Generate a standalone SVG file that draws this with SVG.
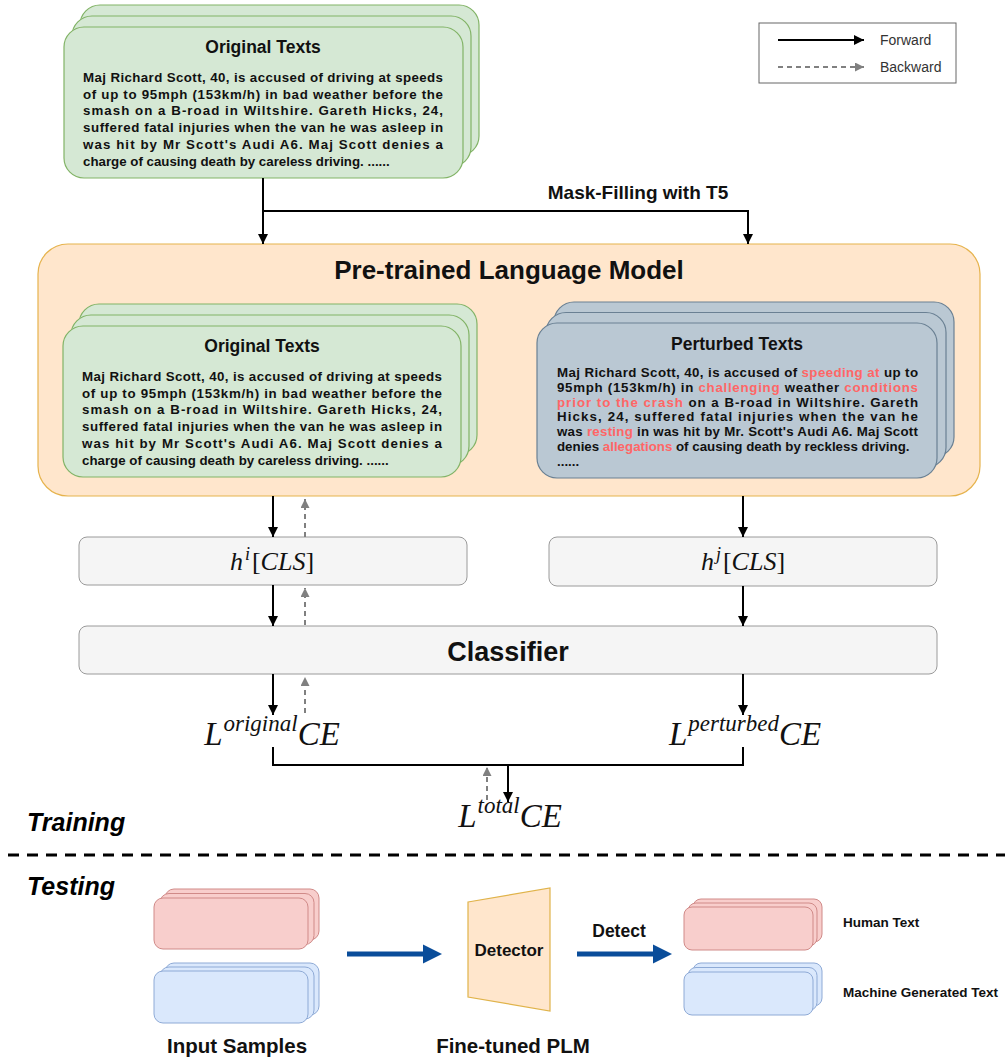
<svg xmlns="http://www.w3.org/2000/svg" width="1005" height="1061" viewBox="0 0 1005 1061">
<defs>
<style>
.green{fill:#d5e8d4;stroke:#82b366;stroke-width:1.2}
.slate{fill:#bac8d3;stroke:#6a8093;stroke-width:1.2}
.plm{fill:#ffe6cc;stroke:#e6b34d;stroke-width:1.2}
.hbox{fill:#f5f5f5;stroke:#9a9a9a;stroke-width:1}
.red{fill:#f8cecc;stroke:#d08a88;stroke-width:1}
.blue{fill:#dae8fc;stroke:#8eaad6;stroke-width:1}
.det{fill:#ffe6cc;stroke:#e0b34a;stroke-width:1.2}
.sans{font-family:"Liberation Sans",Arial,sans-serif;font-weight:bold;fill:#111}
.title{font-size:17.5px;text-anchor:middle}
.body{font-size:13.3px}
.hl{fill:#ff6666}
.math{font-family:"Liberation Serif","Times New Roman",serif;font-style:italic;fill:#111}
.fw{stroke:#000;stroke-width:2;fill:none}
.bw{stroke:#808080;stroke-width:2;stroke-dasharray:5 4;fill:none}
.leg{font-family:"Liberation Sans",Arial,sans-serif;font-size:14px;fill:#333}
.phase{font-family:"Liberation Sans",Arial,sans-serif;font-weight:bold;font-style:italic;font-size:25px;fill:#000}
</style>
<marker id="ah" viewBox="0 0 10 10" refX="10" refY="5" markerWidth="10" markerHeight="10" markerUnits="userSpaceOnUse" orient="auto"><path d="M0,0 L10,5 L0,10 z" fill="#000"/></marker>
<marker id="ahg" viewBox="0 0 10 10" refX="10" refY="5" markerWidth="9" markerHeight="9" markerUnits="userSpaceOnUse" orient="auto"><path d="M0,0 L10,5 L0,10 z" fill="#808080"/></marker>
</defs>
<rect width="1005" height="1061" fill="#fff"/>

<g id="legend">
<rect x="759" y="23" width="197" height="60" fill="#fff" stroke="#666" stroke-width="1"/>
<line x1="778" y1="40" x2="864" y2="40" class="fw" marker-end="url(#ah)"/>
<line x1="778" y1="67" x2="864" y2="67" class="bw" marker-end="url(#ahg)"/>
<text x="880" y="45" class="leg">Forward</text>
<text x="880" y="72" class="leg">Backward</text>
</g>

<g id="original-texts-top">
<rect x="80" y="5" width="399" height="151" rx="20" class="green"/>
<rect x="72" y="16" width="399" height="151" rx="20" class="green"/>
<rect x="64" y="27" width="399" height="151" rx="20" class="green"/>
<text x="263" y="53" class="sans title">Original Texts</text>
<g class="sans body">
<text x="83" y="82" textLength="360" lengthAdjust="spacing">Maj Richard Scott, 40, is accused of driving at speeds</text>
<text x="83" y="98.7" textLength="360" lengthAdjust="spacing">of up to 95mph (153km/h) in bad weather before the</text>
<text x="83" y="115.4" textLength="360" lengthAdjust="spacing">smash on a B-road in Wiltshire. Gareth Hicks, 24,</text>
<text x="83" y="132.1" textLength="360" lengthAdjust="spacing">suffered fatal injuries when the van he was asleep in</text>
<text x="83" y="148.8" textLength="360" lengthAdjust="spacing">was hit by Mr Scott's Audi A6. Maj Scott denies a</text>
<text x="83" y="165.5">charge of causing death by careless driving. ......</text>
</g>
</g>

<g id="plm">
<rect x="38" y="244" width="942" height="252" rx="30" class="plm"/>
<text x="509" y="279" class="sans" font-size="26" text-anchor="middle">Pre-trained Language Model</text>
</g>

<g id="original-texts-inner">
<rect x="79" y="304" width="398" height="151" rx="20" class="green"/>
<rect x="71" y="315" width="398" height="151" rx="20" class="green"/>
<rect x="63" y="326" width="398" height="151" rx="20" class="green"/>
<text x="262" y="352" class="sans title">Original Texts</text>
<g class="sans body">
<text x="82" y="381" textLength="360" lengthAdjust="spacing">Maj Richard Scott, 40, is accused of driving at speeds</text>
<text x="82" y="397.7" textLength="360" lengthAdjust="spacing">of up to 95mph (153km/h) in bad weather before the</text>
<text x="82" y="414.4" textLength="360" lengthAdjust="spacing">smash on a B-road in Wiltshire. Gareth Hicks, 24,</text>
<text x="82" y="431.1" textLength="360" lengthAdjust="spacing">suffered fatal injuries when the van he was asleep in</text>
<text x="82" y="447.8" textLength="360" lengthAdjust="spacing">was hit by Mr Scott's Audi A6. Maj Scott denies a</text>
<text x="82" y="464.5">charge of causing death by careless driving. ......</text>
</g>
</g>

<g id="perturbed-texts">
<rect x="554" y="302" width="400" height="155" rx="20" class="slate"/>
<rect x="546" y="312.5" width="400" height="155" rx="20" class="slate"/>
<rect x="537" y="323" width="400" height="155" rx="20" class="slate"/>
<text x="737" y="349.5" class="sans title">Perturbed Texts</text>
<g class="sans body">
<text x="557" y="377" textLength="361" lengthAdjust="spacing">Maj Richard Scott, 40, is accused of <tspan class="hl">speeding at</tspan> up to</text>
<text x="557" y="391.8" textLength="361" lengthAdjust="spacing">95mph (153km/h) in <tspan class="hl">challenging</tspan> weather <tspan class="hl">conditions</tspan></text>
<text x="557" y="406.6" textLength="361" lengthAdjust="spacing"><tspan class="hl">prior to the crash</tspan> on a B-road in Wiltshire. Gareth</text>
<text x="557" y="421.4" textLength="361" lengthAdjust="spacing">Hicks, 24, suffered fatal injuries when the van he</text>
<text x="557" y="436.2" textLength="361" lengthAdjust="spacing">was <tspan class="hl">resting</tspan> in was hit by Mr. Scott's Audi A6. Maj Scott</text>
<text x="557" y="451">denies <tspan class="hl">allegations</tspan> of causing death by reckless driving.</text>
<text x="557" y="465.8">......</text>
</g>
</g>

<g id="hi-cls">
<rect x="79" y="537" width="388" height="48" rx="8" class="hbox"/>
<text x="272" y="570" text-anchor="middle" class="math" font-size="26">h<tspan font-size="18" dx="2" dy="-10">i</tspan><tspan dx="2" dy="10" font-style="normal">[</tspan>CLS<tspan font-style="normal">]</tspan></text>
</g>

<g id="hj-cls">
<rect x="549" y="537" width="388" height="49" rx="8" class="hbox"/>
<text x="743" y="570" text-anchor="middle" class="math" font-size="26">h<tspan font-size="18" dx="2" dy="-10">j</tspan><tspan dx="2" dy="10" font-style="normal">[</tspan>CLS<tspan font-style="normal">]</tspan></text>
</g>

<g id="classifier">
<rect x="79" y="626" width="858" height="48" rx="8" class="hbox"/>
<text x="508" y="661" text-anchor="middle" class="sans" font-size="27">Classifier</text>
</g>

<g id="loss-original">
<text x="272" y="745" text-anchor="middle" class="math" font-size="33">L<tspan font-size="23" dx="1" dy="-14">original</tspan><tspan dy="14">CE</tspan></text>
</g>
<g id="loss-perturbed">
<text x="745" y="745" text-anchor="middle" class="math" font-size="33">L<tspan font-size="23" dx="1" dy="-14">perturbed</tspan><tspan dy="14">CE</tspan></text>
</g>
<g id="loss-total">
<text x="510" y="827" text-anchor="middle" class="math" font-size="33">L<tspan font-size="23" dx="1" dy="-14">total</tspan><tspan dy="14">CE</tspan></text>
</g>

<g id="connectors">
<polyline points="263,178 263,244" class="fw" marker-end="url(#ah)"/>
<polyline points="263,211 748,211 748,244" class="fw" marker-end="url(#ah)"/>
<text x="638" y="199" text-anchor="middle" class="sans" font-size="19">Mask-Filling with T5</text>

<line x1="273" y1="496" x2="273" y2="537" class="fw" marker-end="url(#ah)"/>
<line x1="273" y1="585" x2="273" y2="626" class="fw" marker-end="url(#ah)"/>
<line x1="273" y1="674" x2="273" y2="715" class="fw" marker-end="url(#ah)"/>
<line x1="305" y1="537" x2="305" y2="499" class="bw" marker-end="url(#ahg)"/>
<line x1="305" y1="625" x2="305" y2="588" class="bw" marker-end="url(#ahg)"/>
<line x1="305" y1="713" x2="305" y2="677" class="bw" marker-end="url(#ahg)"/>

<line x1="743" y1="496" x2="743" y2="537" class="fw" marker-end="url(#ah)"/>
<line x1="743" y1="586" x2="743" y2="626" class="fw" marker-end="url(#ah)"/>
<line x1="743" y1="674" x2="743" y2="715" class="fw" marker-end="url(#ah)"/>

<polyline points="273,747 273,765 743,765 743,747" class="fw"/>
<line x1="508" y1="765" x2="508" y2="802" class="fw" marker-end="url(#ah)"/>
<line x1="487" y1="800" x2="487" y2="767" class="bw" marker-end="url(#ahg)"/>

<line x1="577" y1="954" x2="655" y2="954" stroke="#0a4d9a" stroke-width="5"/>
<polygon points="653,944.5 672,954 653,963.5" fill="#0a4d9a"/>
<line x1="347" y1="954" x2="425" y2="954" stroke="#0a4d9a" stroke-width="5"/>
<polygon points="423,944.5 442,954 423,963.5" fill="#0a4d9a"/>
<text x="619" y="937" text-anchor="middle" class="sans" font-size="17.5">Detect</text>
</g>

<g id="phase-labels">
<text x="27" y="831" class="phase">Training</text>
<line x1="8" y1="855" x2="1005" y2="855" stroke="#000" stroke-width="3" stroke-dasharray="11 8"/>
<text x="27" y="895" class="phase">Testing</text>
</g>

<g id="input-samples">
<rect x="165" y="889" width="154" height="51" rx="9" class="red"/>
<rect x="160" y="893.5" width="154" height="51" rx="9" class="red"/>
<rect x="154" y="898" width="154" height="51" rx="9" class="red"/>
<rect x="165" y="963" width="154" height="52" rx="9" class="blue"/>
<rect x="160" y="967" width="154" height="52" rx="9" class="blue"/>
<rect x="154" y="971" width="154" height="52" rx="9" class="blue"/>
<text x="237" y="1053" text-anchor="middle" class="sans" font-size="20.5">Input Samples</text>
</g>

<g id="detector">
<polygon points="468,902 550,888 550,1011 468,997" class="det"/>
<text x="509" y="956" text-anchor="middle" class="sans" font-size="17">Detector</text>
<text x="513" y="1053" text-anchor="middle" class="sans" font-size="20.5">Fine-tuned PLM</text>
</g>

<g id="outputs">
<rect x="693" y="899" width="129" height="43" rx="8" class="red"/>
<rect x="688" y="903" width="129" height="43" rx="8" class="red"/>
<rect x="684" y="907" width="129" height="43" rx="8" class="red"/>
<rect x="693" y="963" width="129" height="43" rx="8" class="blue"/>
<rect x="688" y="967.5" width="129" height="43" rx="8" class="blue"/>
<rect x="684" y="972" width="129" height="43" rx="8" class="blue"/>
<text x="843" y="927" class="sans" font-size="13.5">Human Text</text>
<text x="843" y="997" class="sans" font-size="13.5">Machine Generated Text</text>
</g>
</svg>
